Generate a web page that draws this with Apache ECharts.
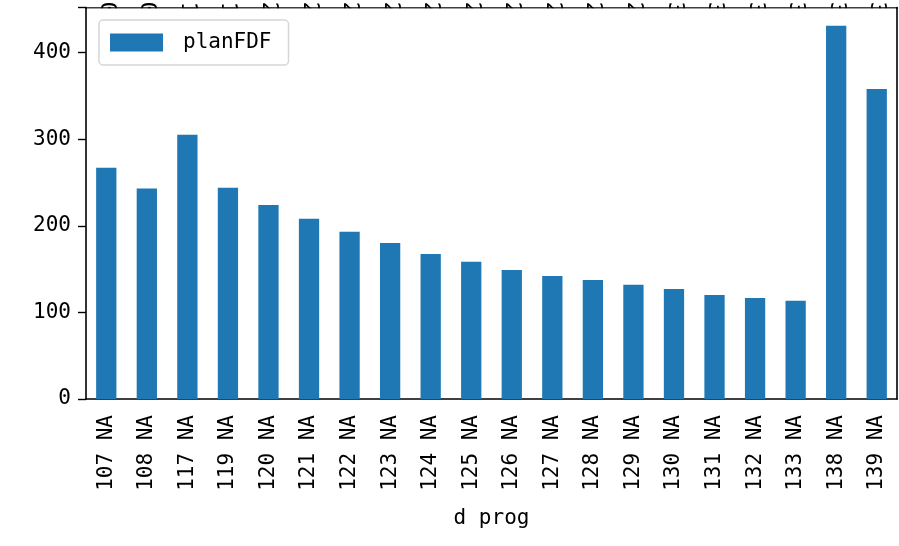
<!DOCTYPE html>
<html><head><meta charset="utf-8">
<script src="https://cdn.jsdelivr.net/npm/echarts@6/dist/echarts.min.js"></script>
<style>html,body{margin:0;padding:0;background:#fff}#c{width:899px;height:546px}</style>
</head><body><div id="c"></div>
<script>
const categories = ["107 NA","108 NA","117 NA","119 NA","120 NA","121 NA","122 NA","123 NA","124 NA","125 NA","126 NA","127 NA","128 NA","129 NA","130 NA","131 NA","132 NA","133 NA","138 NA","139 NA"];
const planFDF = [267,243,305,244,224,208,193,180,167.5,158.5,149,142,137.5,132,127,120,116.5,113.5,431,358];
const yTicks = [0,100,200,300,400];
const seriesName = "planFDF";
const xTitle = "d prog";

const font = "'DejaVu Sans Mono', monospace";
const fs = 21;
const W = 899, H = 546;
const G = {left:86, right:2, top:7.5, bottom:147};
const chart = echarts.init(document.getElementById('c'), null, {renderer:'canvas'});
chart.setOption({
  animation:false,
  backgroundColor:'#fff',
  grid:{left:G.left,right:G.right,top:G.top,bottom:G.bottom,containLabel:false,outerBoundsMode:'none'},
  graphic:[{
    type:'rect', z:1, silent:true,
    shape:{x:G.left+1, y:G.top+1, width:W-G.left-G.right-2, height:H-G.top-G.bottom-2},
    style:{fill:'#fff'}
  }],
  legend:{
    data:[seriesName], left:99, top:20, orient:'vertical',
    itemWidth:53, itemHeight:18, itemGap:0,
    padding:[12,17,12,11],
    borderColor:'#d6d6d6', borderWidth:1.5, borderRadius:4,
    textStyle:{fontFamily:font,fontSize:fs,color:'#000',padding:[0,0,0,15]},
    icon:'rect'
  },
  xAxis:[{
    type:'category', data:categories, position:'bottom',
    axisLine:{onZero:false,lineStyle:{color:'#000',width:1.6}},
    axisTick:{alignWithLabel:true,length:8,lineStyle:{color:'#000',width:1.4}},
    axisLabel:{rotate:90,interval:0,fontFamily:font,fontSize:fs,color:'#000',margin:16},
    name:xTitle, nameLocation:'middle', nameGap:109,
    nameTextStyle:{fontFamily:font,fontSize:fs,color:'#000',verticalAlign:'top'}
  },{
    type:'category', data:categories, position:'top',
    axisLine:{onZero:false,lineStyle:{color:'#000',width:1.6}},
    axisTick:{show:false},
    axisLabel:{rotate:90,interval:0,fontFamily:font,fontSize:fs,color:'#000',margin:-7,
      formatter:v=>v.charAt(1)}
  }],
  yAxis:[{
    type:'value', min:0, max:452, interval:100,
    axisLine:{show:true,onZero:false,lineStyle:{color:'#000',width:1.6}},
    axisTick:{show:true,length:8,lineStyle:{color:'#000',width:1.4}},
    splitLine:{show:false},
    axisLabel:{fontFamily:font,fontSize:fs,color:'#000',margin:15,
      formatter:v=>yTicks.includes(v)?String(v):''}
  },{
    type:'value', position:'right', min:0, max:452, interval:100,
    axisLine:{show:true,onZero:false,lineStyle:{color:'#000',width:1.6}},
    axisTick:{show:false}, axisLabel:{show:false}, splitLine:{show:false}
  }],
  series:[{
    name:seriesName, type:'bar', data:planFDF, barWidth:'50%', z:3,
    itemStyle:{color:'#1f77b4'}
  }]
});
</script></body></html>
